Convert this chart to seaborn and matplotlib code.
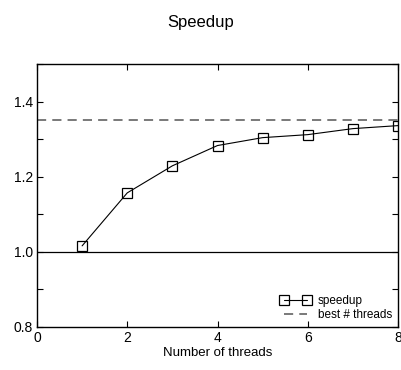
import matplotlib
matplotlib.use("Agg")
import matplotlib.pyplot as plt
import seaborn as sns
import pandas as pd
from matplotlib.ticker import MultipleLocator

threads = [1, 2, 3, 4, 5, 6, 7, 8]
speedup = [1.016, 1.157, 1.229, 1.283, 1.304, 1.312, 1.328, 1.336]
best_speedup = 1.352
baseline = 1.0

sns.set_theme(style="ticks")
plt.rcParams['font.family'] = ['Liberation Sans', 'DejaVu Sans']
plt.rcParams['text.color'] = 'black'
plt.rcParams['axes.labelcolor'] = 'black'
plt.rcParams['xtick.color'] = 'black'
plt.rcParams['ytick.color'] = 'black'

fig = plt.figure(figsize=(4.01, 3.70), dpi=100)
ax = fig.add_axes([37/401, 1 - 327/370, (398-37)/401, (327-64)/370])

df = pd.DataFrame({"threads": threads, "speedup": speedup})
sns.lineplot(data=df, x="threads", y="speedup", ax=ax, color="black", lw=0.8,
             marker="s", markersize=7, markerfacecolor="none",
             markeredgecolor="black", markeredgewidth=0.9, label="speedup")
ax.axhline(best_speedup, color="#555555", lw=1.1, ls=(0, (6, 4)), label="best # threads")
ax.axhline(baseline, color="black", lw=0.9)

ax.set_xlim(0, 8)
ax.set_ylim(0.8, 1.5)
ax.set_xticks([0, 2, 4, 6, 8])
ax.set_yticks([0.8, 1.0, 1.2, 1.4])
ax.yaxis.set_minor_locator(MultipleLocator(0.1))
ax.tick_params(which="both", direction="in", top=True, right=True, labelsize=10, length=4, width=0.8, pad=3)
ax.tick_params(which="minor", length=4)
for s in ax.spines.values():
    s.set_linewidth(1.0)
    s.set_color("black")

ax.set_xlabel("Number of threads", fontsize=9.5, labelpad=1)
ax.set_ylabel("")
fig.suptitle("Speedup", fontsize=12, y=1 - 22/370, va="center")

leg = ax.legend(loc="lower right", frameon=False, fontsize=8.5, handlelength=2.6,
                numpoints=2, handletextpad=0.6, borderaxespad=0.1, labelspacing=0.15)

fig.savefig("out.png", dpi=100)
